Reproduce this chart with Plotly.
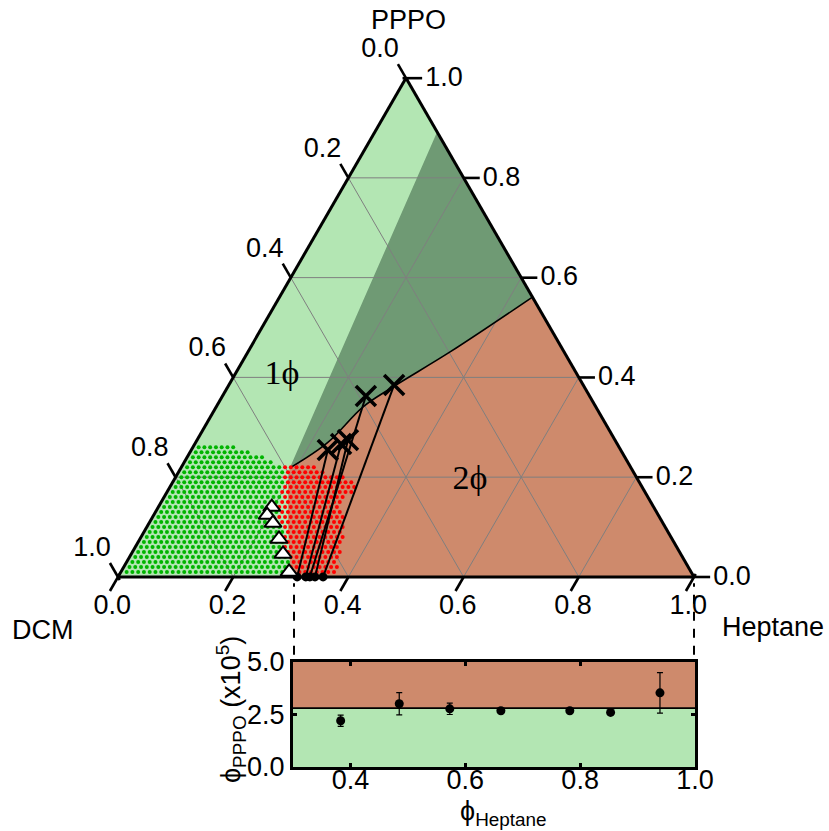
import math
import plotly.graph_objects as go

# ---------------- data (volume fractions) ----------------
# binodal: heptane / PPPO fractions, from the heptane axis up to the DCM-free edge
BINODAL_H = [0.300, 0.245, 0.195, 0.189, 0.229, 0.255, 0.287, 0.351, 0.439]
BINODAL_P = [0.000, 0.100, 0.200, 0.218, 0.2685, 0.341, 0.381, 0.451, 0.561]
PLAIT_INDEX = 3  # binodal point where the shaded tie-triangle starts

# dark shaded region apex on the DCM-free edge (also the black square)
SQUARE_H = [0.108]
SQUARE_P = [0.892]

# sampled compositions: rows of constant PPPO fraction, lattice step in heptane
ROW_P = [0.01, 0.02, 0.03, 0.04, 0.05, 0.06, 0.07, 0.08, 0.09, 0.10, 0.11, 0.12, 0.13,
         0.14, 0.15, 0.16, 0.17, 0.18, 0.19, 0.20, 0.21, 0.22, 0.23, 0.24, 0.25, 0.26]
ROW_H_START = 0.01
ROW_GREEN_H_END = [0.29, 0.28, 0.28, 0.27, 0.26, 0.25, 0.25, 0.24, 0.24, 0.23, 0.22, 0.21, 0.21,
                   0.20, 0.20, 0.20, 0.19, 0.19, 0.19, 0.18, 0.18, 0.17, 0.15, 0.13, 0.10, 0.07]
ROW_RED_H_END = [0.37, 0.37, 0.36, 0.36, 0.36, 0.35, 0.35, 0.35, 0.34, 0.34, 0.33, 0.33, 0.32,
                 0.31, 0.31, 0.31, 0.32, 0.32, 0.31, 0.29, 0.25, 0.23, 0.0, 0.0, 0.0, 0.0]
LATTICE_STEP = 0.01

# tie lines: upper (X) end and lower end on the heptane axis
TIE_TOP_H = [0.237, 0.254, 0.262, 0.249, 0.287]
TIE_TOP_P = [0.2545, 0.2665, 0.2745, 0.3627, 0.3848]
TIE_BOTTOM_H = [0.311, 0.326, 0.342, 0.333, 0.356]
TIE_BOTTOM_P = [0.0, 0.0, 0.0, 0.0, 0.0]

# open triangles
TRI_H = [0.197, 0.197, 0.215, 0.2415, 0.2635, 0.292]
TRI_P = [0.140, 0.124, 0.108, 0.076, 0.046, 0.010]

# phase labels
LABEL_TEXT = ["1\u03d5", "2\u03d5"]
LABEL_H = [0.083, 0.514]
LABEL_P = [0.403, 0.194]

TERNARY_TICKS = [0.0, 0.2, 0.4, 0.6, 0.8, 1.0]

# inset: low-PPPO phase composition
INSET_X = [0.383, 0.485, 0.573, 0.662, 0.782, 0.853, 0.939]
INSET_Y = [2.20, 3.01, 2.77, 2.68, 2.68, 2.60, 3.53]
INSET_ERR = [0.27, 0.53, 0.27, 0.0, 0.0, 0.0, 0.96]
INSET_BOUNDARY = 2.8
INSET_XRANGE = [0.3, 1.0]
INSET_YRANGE = [0.0, 5.0]
INSET_XTICKS = [0.4, 0.6, 0.8, 1.0]
INSET_YTICKS = [0.0, 2.5, 5.0]

# ---------------- styles ----------------
LIGHT_GREEN = "#b3e6b3"
DARK_GREEN = "#6f9a74"
ORANGE = "#ce8a6c"
GRID = "#7f7f7f"
FONT = "Liberation Sans, Arial, sans-serif"
SERIF = "Liberation Serif, Times New Roman, serif"
W, H = 829, 831
TRI_BOX = dict(x0=118, x1=694, ytop=78, ybot=577)   # pixel box of the ternary triangle
S3 = math.sqrt(3) / 2
TICK_SHIFT = 0.011                  # tick mark centre shift outward (composition units)
LEFT_LABEL_OFF = (-0.073, 0.056)    # (dH, dP) label offsets per edge
RIGHT_LABEL_OFF = (0.067, -0.002)
BOTTOM_LABEL_OFF = (0.020, -0.060)


def abc(hs, ps):
    """heptane/PPPO fractions -> (a=PPPO, b=DCM, c=heptane)"""
    a = list(ps)
    b = [None if (h is None or p is None) else 1 - p - h for h, p in zip(hs, ps)]
    c = list(hs)
    return a, b, c


def to_xy(hs, ps):
    """heptane/PPPO fractions -> cartesian frame of the overlay axes"""
    return [h + p / 2 for h, p in zip(hs, ps)], [p * S3 for p in ps]


fig = go.Figure()

# 2-phase region (below binodal)
oh = BINODAL_H + [1.0, BINODAL_H[0]]
op = BINODAL_P + [0.0, BINODAL_P[0]]
a, b, c = abc(oh, op)
fig.add_trace(go.Scatterternary(a=a, b=b, c=c, mode="lines", fill="toself",
                                fillcolor=ORANGE, line=dict(width=0, color=ORANGE),
                                hoverinfo="skip", showlegend=False))

# shaded tie-triangle region
dh = [BINODAL_H[PLAIT_INDEX]] + SQUARE_H + BINODAL_H[::-1][:len(BINODAL_H) - PLAIT_INDEX]
dp = [BINODAL_P[PLAIT_INDEX]] + SQUARE_P + BINODAL_P[::-1][:len(BINODAL_P) - PLAIT_INDEX]
a, b, c = abc(dh, dp)
fig.add_trace(go.Scatterternary(a=a, b=b, c=c, mode="lines", fill="toself",
                                fillcolor=DARK_GREEN, line=dict(width=0, color=DARK_GREEN),
                                hoverinfo="skip", showlegend=False))

# grid lines (constant PPPO, heptane, DCM)
gh, gp = [], []
for v in TERNARY_TICKS[1:-1]:
    gh += [0.0, 1 - v, None]; gp += [v, v, None]          # const PPPO
    gh += [v, v, None]; gp += [0.0, 1 - v, None]          # const heptane
    gh += [1 - v, 0.0, None]; gp += [0.0, 1 - v, None]    # const DCM
a, b, c = abc(gh, gp)
fig.add_trace(go.Scatterternary(a=a, b=b, c=c, mode="lines",
                                line=dict(color=GRID, width=1), connectgaps=False,
                                hoverinfo="skip", showlegend=False))

# binodal line (from plait point up)
a, b, c = abc(BINODAL_H[PLAIT_INDEX:], BINODAL_P[PLAIT_INDEX:])
fig.add_trace(go.Scatterternary(a=a, b=b, c=c, mode="lines",
                                line=dict(color="black", width=1.6, shape="spline"),
                                hoverinfo="skip", showlegend=False))

# sampled compositions
green_h, green_p, red_h, red_p = [], [], [], []
for p, gend, rend in zip(ROW_P, ROW_GREEN_H_END, ROW_RED_H_END):
    k0 = round(ROW_H_START / LATTICE_STEP)
    kg = round(gend / LATTICE_STEP)
    kr = round(rend / LATTICE_STEP)
    for k in range(k0, kg + 1):
        green_h.append(k * LATTICE_STEP); green_p.append(p)
    for k in range(kg + 1, kr + 1):
        red_h.append(k * LATTICE_STEP); red_p.append(p)
a, b, c = abc(green_h, green_p)
fig.add_trace(go.Scatterternary(a=a, b=b, c=c, mode="markers",
                                marker=dict(color="#00b400", size=4.0),
                                hoverinfo="skip", showlegend=False))
a, b, c = abc(red_h, red_p)
fig.add_trace(go.Scatterternary(a=a, b=b, c=c, mode="markers",
                                marker=dict(color="#ff0000", size=4.0),
                                hoverinfo="skip", showlegend=False))

# tie lines
th, tp = [], []
for h0, p0, h1, p1 in zip(TIE_TOP_H, TIE_TOP_P, TIE_BOTTOM_H, TIE_BOTTOM_P):
    th += [h0, h1, None]; tp += [p0, p1, None]
a, b, c = abc(th, tp)
fig.add_trace(go.Scatterternary(a=a, b=b, c=c, mode="lines",
                                line=dict(color="black", width=2), connectgaps=False,
                                hoverinfo="skip", showlegend=False))
a, b, c = abc(TIE_BOTTOM_H, TIE_BOTTOM_P)
fig.add_trace(go.Scatterternary(a=a, b=b, c=c, mode="markers",
                                marker=dict(color="black", size=9), cliponaxis=False,
                                hoverinfo="skip", showlegend=False))
a, b, c = abc(TIE_TOP_H, TIE_TOP_P)
fig.add_trace(go.Scatterternary(a=a, b=b, c=c, mode="markers",
                                marker=dict(symbol="x-thin", size=20,
                                            line=dict(color="black", width=3.6)),
                                hoverinfo="skip", showlegend=False))

# open triangles
a, b, c = abc(TRI_H, TRI_P)
fig.add_trace(go.Scatterternary(a=a, b=b, c=c, mode="markers", cliponaxis=False,
                                marker=dict(symbol="triangle-up", size=15, color="white",
                                            line=dict(color="black", width=2)),
                                hoverinfo="skip", showlegend=False))

# black square
a, b, c = abc(SQUARE_H, SQUARE_P)
fig.add_trace(go.Scatterternary(a=a, b=b, c=c, mode="markers", cliponaxis=False,
                                marker=dict(symbol="square", size=12, color="black"),
                                hoverinfo="skip", showlegend=False))

# phase labels
a, b, c = abc(LABEL_H, LABEL_P)
fig.add_trace(go.Scatterternary(a=a, b=b, c=c, mode="text", text=LABEL_TEXT,
                                textfont=dict(family=SERIF, size=34, color="black"),
                                hoverinfo="skip", showlegend=False))

# ternary tick marks + labels, on a hidden cartesian frame laid over the whole page
tick_h, tick_p, tick_ang = [], [], []
lab_h, lab_p, lab_t = [], [], []
for v in TERNARY_TICKS:
    txt = f"{v:.1f}"
    # left edge: DCM fraction v (H=0, P=1-v); tick along constant-DCM line
    tick_h.append(-TICK_SHIFT); tick_p.append(1 - v + TICK_SHIFT); tick_ang.append(60)
    lab_h.append(LEFT_LABEL_OFF[0]); lab_p.append(1 - v + LEFT_LABEL_OFF[1]); lab_t.append(txt)
    # bottom edge: heptane fraction v (P=0); tick along constant-heptane line
    tick_h.append(v); tick_p.append(-TICK_SHIFT); tick_ang.append(-60)
    lab_h.append(v + BOTTOM_LABEL_OFF[0]); lab_p.append(BOTTOM_LABEL_OFF[1]); lab_t.append(txt)
    # right edge: PPPO fraction v (DCM=0); tick along constant-PPPO line
    tick_h.append(1 - v + TICK_SHIFT); tick_p.append(v); tick_ang.append(0)
    lab_h.append(1 - v + RIGHT_LABEL_OFF[0]); lab_p.append(v + RIGHT_LABEL_OFF[1]); lab_t.append(txt)
tx, ty = to_xy(tick_h, tick_p)
fig.add_trace(go.Scatter(x=tx, y=ty, xaxis="x2", yaxis="y2", mode="markers", cliponaxis=False,
                         marker=dict(symbol="line-ew", size=14, angle=tick_ang,
                                     line=dict(color="black", width=2.6)),
                         hoverinfo="skip", showlegend=False))
lx, ly = to_xy(lab_h, lab_p)
fig.add_trace(go.Scatter(x=lx, y=ly, xaxis="x2", yaxis="y2", mode="text", text=lab_t,
                         cliponaxis=False, textposition="middle center",
                         textfont=dict(family=FONT, size=27, color="black"),
                         hoverinfo="skip", showlegend=False))

# inset
fig.add_trace(go.Scatter(x=INSET_X, y=INSET_Y, mode="markers", xaxis="x", yaxis="y",
                         marker=dict(color="black", size=9),
                         error_y=dict(type="data", array=INSET_ERR, visible=True,
                                      color="black", thickness=1.2, width=3),
                         hoverinfo="skip", showlegend=False))

axis_common = dict(
    min=0, showgrid=False, showline=True, linecolor="black", linewidth=3,
    ticks="", showticklabels=False, layer="above traces", title=dict(text=""),
)

# overlay frame: spans the whole page, same pixel scale as the triangle
px_per_unit = TRI_BOX["x1"] - TRI_BOX["x0"]
ov_xrange = [-TRI_BOX["x0"] / px_per_unit, (W - TRI_BOX["x0"]) / px_per_unit]
ov_yrange = [-(H - TRI_BOX["ybot"]) / px_per_unit, TRI_BOX["ybot"] / px_per_unit]

fig.update_layout(
    width=W, height=H,
    margin=dict(l=0, r=0, t=0, b=0, autoexpand=False),
    paper_bgcolor="white",
    plot_bgcolor="rgba(0,0,0,0)",
    font=dict(family=FONT, color="black", size=27),
    ternary=dict(
        sum=1,
        bgcolor=LIGHT_GREEN,
        domain=dict(x=[TRI_BOX["x0"] / W, TRI_BOX["x1"] / W],
                    y=[(H - TRI_BOX["ybot"]) / H, (H - TRI_BOX["ytop"]) / H]),
        aaxis=axis_common, baxis=axis_common, caxis=axis_common,
    ),
    xaxis2=dict(domain=[0, 1], range=ov_xrange, anchor="y2",
                visible=False, automargin=False, fixedrange=True),
    yaxis2=dict(domain=[0, 1], range=ov_yrange, anchor="x2",
                visible=False, automargin=False, fixedrange=True),
    xaxis=dict(domain=[293 / W, 695 / W], range=INSET_XRANGE, anchor="y",
               automargin=False,
               tickmode="array", tickvals=INSET_XTICKS,
               ticktext=[f"{v:.1f}" for v in INSET_XTICKS],
               showline=True, linecolor="black", linewidth=3, mirror="ticks",
               ticks="inside", ticklen=4, tickwidth=3, tickcolor="black",
               ticklabelstandoff=-13,
               showgrid=False, zeroline=False,
               tickfont=dict(family=FONT, size=27)),
    yaxis=dict(domain=[(H - 767) / H, (H - 662) / H], range=INSET_YRANGE, anchor="x",
               automargin=False,
               tickmode="array", tickvals=INSET_YTICKS,
               ticktext=[f"{v:.1f}" for v in INSET_YTICKS],
               showline=True, linecolor="black", linewidth=3, mirror="ticks",
               ticks="inside", ticklen=4, tickwidth=3, tickcolor="black",
               showgrid=False, zeroline=False,
               tickfont=dict(family=FONT, size=27)),
    shapes=[
        dict(type="rect", xref="x domain", yref="y", x0=0, x1=1,
             y0=INSET_YRANGE[0], y1=INSET_BOUNDARY, fillcolor=LIGHT_GREEN,
             line=dict(width=0), layer="below"),
        dict(type="rect", xref="x domain", yref="y", x0=0, x1=1,
             y0=INSET_BOUNDARY, y1=INSET_YRANGE[1], fillcolor=ORANGE,
             line=dict(width=0), layer="below"),
        dict(type="line", xref="x domain", yref="y", x0=0, x1=1,
             y0=INSET_BOUNDARY, y1=INSET_BOUNDARY, line=dict(color="black", width=1.8),
             layer="below"),
        dict(type="line", xref="x", yref="y domain", x0=INSET_XRANGE[0], x1=INSET_XRANGE[0],
             y0=1.07, y1=1.75, line=dict(color="black", width=4, dash="9px,8px")),
        dict(type="line", xref="x", yref="y domain", x0=INSET_XRANGE[1], x1=INSET_XRANGE[1],
             y0=1.07, y1=1.75, line=dict(color="black", width=4, dash="9px,8px")),
    ],
    annotations=[
        dict(text="PPPO", x=408 / W, y=1 - 20 / H, xref="paper", yref="paper",
             xanchor="center", yanchor="middle",
             showarrow=False, font=dict(family=FONT, size=27)),
        dict(text="DCM", x=43 / W, y=1 - 630 / H, xref="paper", yref="paper",
             xanchor="center", yanchor="middle",
             showarrow=False, font=dict(family=FONT, size=27)),
        dict(text="Heptane", x=773 / W, y=1 - 627 / H, xref="paper", yref="paper",
             xanchor="center", yanchor="middle",
             showarrow=False, font=dict(family=FONT, size=27)),
        dict(text="\u03d5<sub>Heptane</sub>", x=503 / W, y=1 - 813 / H,
             xref="paper", yref="paper", xanchor="center", yanchor="middle",
             showarrow=False, font=dict(family=FONT, size=27)),
        dict(text="\u03d5<sub>PPPO</sub> (x10<sup>5</sup>)", x=231 / W, y=1 - 710 / H,
             xref="paper", yref="paper", xanchor="center", yanchor="middle", textangle=-90,
             showarrow=False, font=dict(family=FONT, size=27)),
    ],
)

fig.write_html("out.html")
